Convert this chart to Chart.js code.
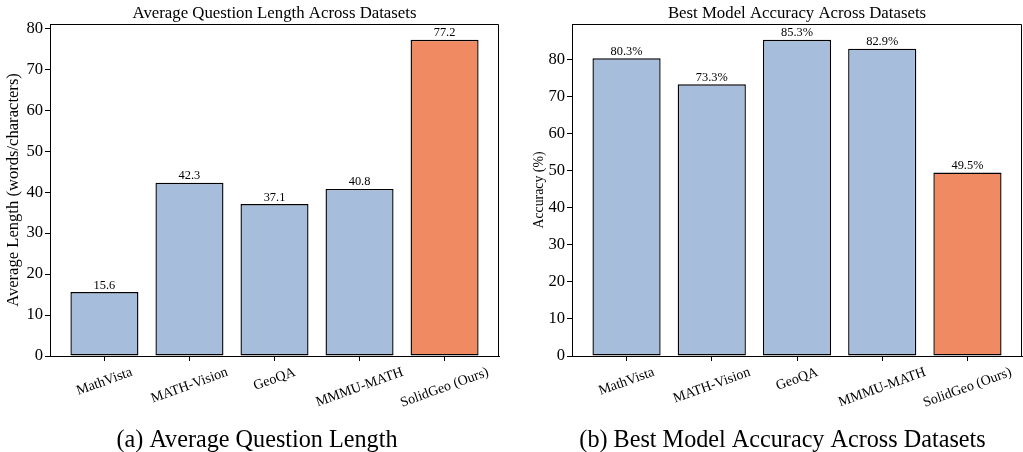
<!DOCTYPE html>
<html>
<head>
<meta charset="utf-8">
<script src="https://cdn.jsdelivr.net/npm/chart.js@4.4.1/dist/chart.umd.min.js"></script>
<style>
  html, body { margin: 0; padding: 0; background: #fff; }
  #wrap { position: relative; width: 1023px; height: 452px; overflow: hidden; }
  .panel { position: absolute; top: 0; height: 452px; }
  canvas { display: block; }
</style>
</head>
<body>
<div id="wrap">
  <div class="panel" style="left:0;width:512px"><canvas id="lengthChart" width="512" height="452"></canvas></div>
  <div class="panel" style="left:512px;width:511px"><canvas id="accuracyChart" width="511" height="452"></canvas></div>
</div>
<script>
// datasets compared in both panels
const datasetNames = ['MathVista', 'MATH-Vision', 'GeoQA', 'MMMU-MATH', 'SolidGeo (Ours)'];
// average question length (words/characters)
const avgLength = [15.6, 42.3, 37.1, 40.8, 77.2];
// best model accuracy (%)
const bestAccuracy = [80.3, 73.3, 85.3, 82.9, 49.5];
const yTickValues = [0, 10, 20, 30, 40, 50, 60, 70, 80];

const serif = "'Liberation Serif', 'DejaVu Serif', serif";
const baseBlue = '#a6bddb';
const oursOrange = '#ef8a62';
const barColors = datasetNames.map((_, i) => i === datasetNames.length - 1 ? oursOrange : baseBlue);

// title, frame, value labels, rotated category labels and caption
const panelDecor = {
  id: 'panelDecor',
  afterDatasetsDraw(chart, args, opts) {
    const ctx = chart.ctx;
    const area = chart.chartArea;
    const xScale = chart.scales.x;
    ctx.save();

    // top and right spines
    ctx.strokeStyle = '#000';
    ctx.lineWidth = 1;
    ctx.beginPath();
    ctx.moveTo(Math.round(area.left) + 0.5, Math.round(area.top) + 0.5);
    ctx.lineTo(Math.round(area.right) - 0.5, Math.round(area.top) + 0.5);
    ctx.lineTo(Math.round(area.right) - 0.5, Math.round(area.bottom) + 0.5);
    ctx.stroke();

    // value labels above bars
    ctx.fillStyle = '#000';
    ctx.font = '12.4px ' + serif;
    ctx.textAlign = 'center';
    ctx.textBaseline = 'alphabetic';
    const values = chart.data.datasets[0].data;
    chart.getDatasetMeta(0).data.forEach((bar, i) => {
      ctx.fillText(opts.format(values[i].y), bar.x, bar.y - 3.5);
    });

    // rotated category labels, centred under their ticks
    const angle = 20 * Math.PI / 180;
    const fs = 14;
    ctx.font = fs + 'px ' + serif;
    ctx.textBaseline = 'middle';
    datasetNames.forEach((name, i) => {
      const px = xScale.getPixelForValue(i);
      const w = ctx.measureText(name).width;
      const boxH = w * Math.sin(angle) + fs * 1.1 * Math.cos(angle);
      const cy = area.bottom + 5 + 3.5 + boxH / 2;
      ctx.save();
      ctx.translate(px, cy);
      ctx.rotate(-angle);
      ctx.fillText(name, 0, 0);
      ctx.restore();
    });

    // panel title
    ctx.font = '16.8px ' + serif;
    ctx.textBaseline = 'alphabetic';
    ctx.fillText(opts.title, (area.left + area.right) / 2, area.top - 6.5);

    // sub-figure caption
    ctx.font = '24.2px ' + serif;
    ctx.fillText(opts.caption, opts.captionX, 446.5);
    ctx.restore();
  }
};

function makeChart(id, values, cfg) {
  const n = values.length;
  const xPad = 0.05 * (n - 1 + 0.8);
  const canvas = document.getElementById(id);
  return new Chart(canvas, {
    type: 'bar',
    data: {
      datasets: [{
        data: values.map((v, i) => ({ x: i, y: v })),
        backgroundColor: barColors,
        borderColor: '#000',
        borderWidth: 1.4,
        borderSkipped: false,
        barPercentage: 0.8,
        categoryPercentage: 1
      }]
    },
    plugins: [panelDecor],
    options: {
      responsive: false,
      animation: false,
      layout: { padding: { left: 0, top: 24, right: cfg.rightPad, bottom: 91 } },
      plugins: {
        legend: { display: false },
        tooltip: { enabled: false },
        panelDecor: { title: cfg.title, caption: cfg.caption, captionX: cfg.captionX, format: cfg.format }
      },
      scales: {
        x: {
          type: 'linear',
          offset: false,
          min: -0.4 - xPad,
          max: n - 1 + 0.4 + xPad,
          afterBuildTicks: s => { s.ticks = datasetNames.map((_, i) => ({ value: i })); },
          afterFit: s => { s.height = 5; },
          ticks: { display: false },
          grid: { offset: false, drawOnChartArea: false, drawTicks: true, tickLength: 5, color: '#000' },
          border: { display: true, color: '#000', width: 1 }
        },
        y: {
          min: 0,
          max: Math.max(...values) * 1.05,
          afterBuildTicks: s => { s.ticks = yTickValues.map(v => ({ value: v })); },
          afterFit: s => { s.width = cfg.axisWidth; },
          ticks: { color: '#000', padding: 2, font: { family: serif, size: 16.6 } },
          grid: { drawOnChartArea: false, drawTicks: true, tickLength: 5, color: '#000' },
          border: { display: true, color: '#000', width: 1 },
          title: {
            display: true,
            text: cfg.yLabel,
            color: '#000',
            font: { family: serif, size: cfg.yLabelSize, lineHeight: 1.2 },
            padding: { top: cfg.yLabelPad, bottom: 0 }
          }
        }
      }
    }
  });
}

makeChart('lengthChart', avgLength, {
  title: 'Average Question Length Across Datasets',
  caption: '(a) Average Question Length',
  captionX: 257,
  yLabel: 'Average Length (words/characters)',
  yLabelSize: 16.6,
  yLabelPad: 4,
  axisWidth: 50,
  rightPad: 13,
  format: v => v.toFixed(1)
});

makeChart('accuracyChart', bestAccuracy, {
  title: 'Best Model Accuracy Across Datasets',
  caption: '(b) Best Model Accuracy Across Datasets',
  captionX: 270.5,
  yLabel: 'Accuracy (%)',
  yLabelSize: 13.8,
  yLabelPad: 18.7,
  axisWidth: 60,
  rightPad: 1,
  format: v => v.toFixed(1) + '%'
});
</script>
</body>
</html>
